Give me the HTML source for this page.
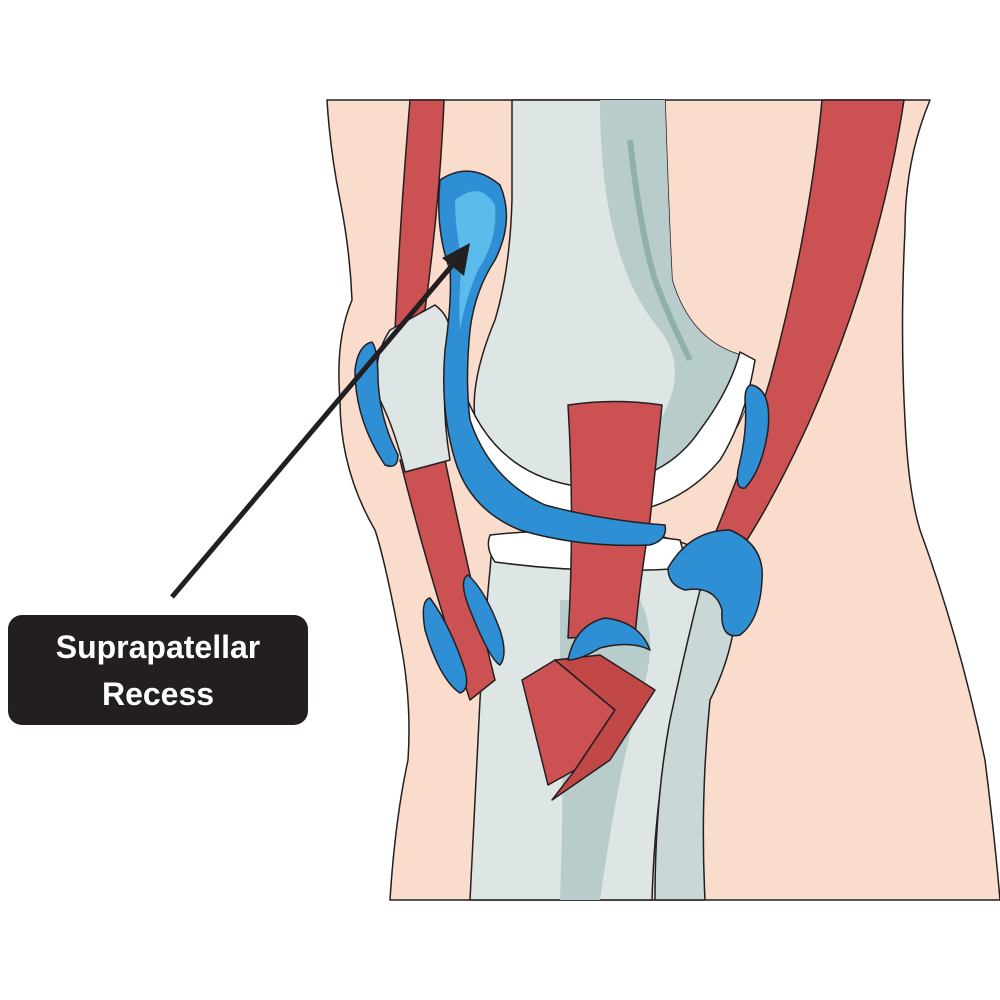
<!DOCTYPE html>
<html><head><meta charset="utf-8"><style>
html,body{margin:0;padding:0;background:#fff;width:1000px;height:1000px;overflow:hidden}
svg{display:block}
</style></head><body>
<svg width="1000" height="1000" viewBox="0 0 1000 1000" xmlns="http://www.w3.org/2000/svg">
<g stroke="#231f20" stroke-width="1.5" stroke-linejoin="round">
<!-- skin -->
<path d="M327 100 L930 100 Q905 160 905 230 Q900 330 905 420 Q908 490 920 530 Q960 640 985 760 Q995 840 1000 900 L390 900 Q395 820 408 760 Q412 700 400 640 Q385 560 375 530 Q340 470 340 400 Q335 340 352 300 Q350 250 340 200 Q330 150 327 100 Z" fill="#fadccd"/>
<!-- femur -->
<path d="M512 100 L665 100 Q668 200 672 280 Q690 340 740 355 Q755 380 745 410 Q720 470 660 500 Q600 520 540 505 Q485 480 475 420 Q470 380 495 320 Q510 270 512 200 Z" fill="#dde5e5"/>
<path d="M600 100 L665 100 Q668 200 672 280 Q690 340 740 355 Q755 380 745 410 Q720 470 660 500 Q640 460 660 420 Q690 370 660 330 Q600 260 600 100 Z" fill="#b8cccb" stroke="none"/>
<path d="M630 140 Q640 230 655 280 Q670 320 690 360" fill="none" stroke="#8fb0ab" stroke-width="6"/>
<!-- meniscus crescent -->
<path d="M462 385 Q490 470 570 485 Q660 490 700 430 Q730 390 740 352 L755 360 Q745 420 720 460 Q670 520 580 515 Q480 505 462 385 Z" fill="#fff"/>
<!-- tibia -->
<path d="M492 545 Q520 530 580 530 Q660 525 720 560 Q735 600 720 640 Q690 680 672 720 Q655 800 652 900 L470 900 Q475 800 480 700 Q485 620 490 570 Z" fill="#dde5e5"/>
<path d="M560 600 L640 600 Q660 640 640 700 Q620 760 600 900 L560 900 Q565 760 560 700 Z" fill="#b8cccb" stroke="none"/>
<!-- meniscus lower -->
<path d="M490 535 Q580 525 680 540 L688 568 Q590 575 495 562 Q485 548 490 535 Z" fill="#fff"/>
<!-- fibula -->
<path d="M700 590 Q730 585 735 620 Q730 660 710 700 Q700 800 705 900 L655 900 Q655 800 670 720 Q685 650 700 590 Z" fill="#c9d8d7"/>
<!-- left muscle -->
<path d="M410 100 L444 100 Q440 200 425 310 L395 330 Q400 220 410 100 Z" fill="#cc5152"/>
<path d="M400 460 L445 460 Q470 580 495 680 L470 700 Q430 580 400 460 Z" fill="#cc5152"/>
<!-- right muscle -->
<path d="M822 100 L904 100 Q880 260 810 420 Q760 530 715 585 L695 580 Q740 480 770 380 Q810 230 822 100 Z" fill="#cc5152"/>
<!-- patella -->
<path d="M390 330 L435 305 Q455 320 448 345 Q440 400 450 460 L405 472 Q395 430 380 400 Q370 360 390 330 Z" fill="#dde5e5"/>
<!-- central tendon -->
<path d="M568 405 Q615 398 662 405 L650 520 Q640 580 635 635 L568 638 Q575 520 568 405 Z" fill="#cc5152"/>
<path d="M522 680 L555 660 L615 710 L575 770 L548 785 Z" fill="#cc5152"/>
<path d="M555 660 L600 655 L655 690 L610 760 L552 800 L575 770 L615 710 Z" fill="#c24848"/>
<!-- blue bursae -->
<g fill="#2f8fd4">
<path d="M440 180 Q470 160 500 185 Q515 220 495 260 Q475 290 470 330 Q465 380 470 420 Q490 480 545 505 Q600 520 665 525 Q668 540 650 545 Q580 548 520 530 Q470 510 455 460 Q440 410 445 350 Q452 300 450 270 Q435 230 440 180 Z"/>
<path d="M372 342 Q358 345 355 370 Q355 420 385 465 Q398 470 398 455 Q380 420 378 380 Q378 350 372 342 Z"/>
<path d="M752 385 Q772 390 768 430 Q762 470 745 488 Q735 490 738 470 Q748 430 745 400 Q745 385 752 385 Z"/>
<path d="M668 568 Q690 530 730 530 Q765 545 762 580 Q760 620 740 635 Q720 640 722 610 Q715 585 685 590 Q668 585 668 568 Z"/>
<path d="M430 598 Q420 600 425 630 Q440 680 460 693 Q470 690 465 670 Q450 625 430 598 Z"/>
<path d="M468 575 Q458 580 470 610 Q490 660 500 665 Q508 655 500 630 Q485 590 468 575 Z"/>
<path d="M568 660 Q575 625 605 618 Q640 622 650 650 Q630 640 600 648 Q580 660 568 660 Z"/>
</g>
<path d="M455 200 Q480 180 495 205 Q498 240 478 270 Q465 300 460 330 Q458 300 462 260 Q455 230 455 200 Z" fill="#5bbbea" stroke="none"/>
</g>
<!-- arrow -->
<line x1="172" y1="597" x2="455" y2="262" stroke="#231f20" stroke-width="5"/>
<polygon points="470,243 464,276 442,258" fill="#231f20"/>
<!-- label -->
<rect x="8" y="615" width="300" height="110" rx="14" fill="#231f20"/>
<text x="158" y="658" fill="#fff" font-family="Liberation Sans, sans-serif" font-weight="bold" font-size="32" text-anchor="middle">Suprapatellar</text>
<text x="158" y="705" fill="#fff" font-family="Liberation Sans, sans-serif" font-weight="bold" font-size="32" text-anchor="middle">Recess</text>
</svg>
</body></html>
